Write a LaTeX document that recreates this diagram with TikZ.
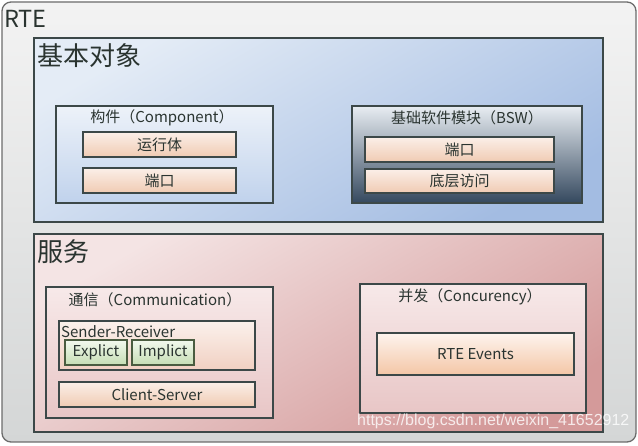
\documentclass[tikz,border=0pt]{standalone}
\usepackage{fontspec}
\setmainfont{Noto Sans CJK SC}
\newfontfamily\wmfont{Liberation Sans}
\definecolor{txt}{HTML}{2A3430}
\definecolor{edge}{HTML}{3C4848}
\definecolor{outT}{HTML}{F3F3F3}
\definecolor{outB}{HTML}{D4D6D6}
\definecolor{bluT}{HTML}{E4ECF6}
\definecolor{bluB}{HTML}{A3BCE2}
\definecolor{cmpT}{HTML}{EDF2F9}
\definecolor{cmpB}{HTML}{C0D2EC}
\definecolor{bswT}{HTML}{E8EDF2}
\definecolor{bswB}{HTML}{34485E}
\definecolor{orgT}{HTML}{FBEFE8}
\definecolor{orgB}{HTML}{F0CBB3}
\definecolor{pnkT}{HTML}{F4E4E4}
\definecolor{pnkB}{HTML}{D49A9A}
\definecolor{comT}{HTML}{F7E9E9}
\definecolor{comB}{HTML}{E8C6C6}
\definecolor{srT}{HTML}{FBF1EC}
\definecolor{srB}{HTML}{F1D0C2}
\definecolor{grnT}{HTML}{F2F8EE}
\definecolor{grnB}{HTML}{C6DEB4}
\definecolor{grnE}{HTML}{4A5C40}
\definecolor{evT}{HTML}{FDF4EE}
\definecolor{evB}{HTML}{F4C6A6}
\tikzset{
  panel/.style={draw=edge, line width=1.2pt, inner sep=0pt},
  orangebox/.style={panel, top color=orgT, bottom color=orgB, line width=1.1pt},
  greenbox/.style={draw=grnE, line width=1.1pt, top color=grnT, bottom color=grnB, inner sep=0pt},
  lbl/.style={text=txt, font=\fontsize{15}{17}\selectfont, inner sep=0pt},
  big/.style={text=txt, font=\fontsize{26}{30}\selectfont, inner sep=0pt, anchor=west},
}
\begin{document}
\begin{tikzpicture}[x=1pt,y=-1pt]
\useasboundingbox (0,0) rectangle (638,446);
\fill[white] (0,0) rectangle (638,446);
% outer RTE
\node[draw=gray!85!black, line width=1.3pt, rounded corners=9pt, top color=outT, bottom color=outB, minimum width=634pt, minimum height=440pt, inner sep=0pt] (rte) at (319,222) {};
\node[big, font=\fontsize{23.5}{26}\selectfont] (rtet) at (4,19) {RTE};
% basic objects
\node[panel, top color=bluT, bottom color=bluB, shading angle=30, minimum width=569pt, minimum height=184pt] (basic) at (318.5,130) {};
\node[big] (basict) at (37,56) {基本对象};
% component
\node[panel, top color=cmpT, bottom color=cmpB, minimum width=217pt, minimum height=97pt] (comp) at (164.5,154.5) {};
\node[lbl] (compt) at (162,118) {构件（Component）};
\node[orangebox, minimum width=153pt, minimum height=25pt] (run) at (159.5,144.5) {};
\node[lbl] (runt) at (run) {运行体};
\node[orangebox, minimum width=153pt, minimum height=25pt] (port1) at (159.5,180.5) {};
\node[lbl] (port1t) at (port1) {端口};
% BSW
\node[panel, top color=bswT, bottom color=bswB, minimum width=230pt, minimum height=97pt] (bsw) at (467,154.5) {};
\node[lbl] (bswt) at (467,118) {基础软件模块（BSW）};
\node[orangebox, minimum width=189pt, minimum height=25pt] (port2) at (459.5,149.5) {};
\node[lbl] (port2t) at (port2) {端口};
\node[orangebox, minimum width=189pt, minimum height=24pt] (low) at (459.5,181) {};
\node[lbl] (lowt) at (low) {底层访问};
% services
\node[panel, top color=pnkT, bottom color=pnkB, shading angle=30, minimum width=569pt, minimum height=198pt] (serv) at (318.5,333) {};
\node[big] (servt) at (37,252) {服务};
% communication
\node[panel, top color=comT, bottom color=comB, minimum width=227pt, minimum height=131pt] (comm) at (159.5,352.5) {};
\node[lbl] (commt) at (155,300) {通信（Communication）};
\node[panel, line width=1.1pt, top color=srT, bottom color=srB, minimum width=196pt, minimum height=49pt] (sr) at (157,345.5) {};
\node[lbl, anchor=west] (srt) at (61,332) {Sender-Receiver};
\node[greenbox, minimum width=62pt, minimum height=25pt] (expl) at (96,352.5) {};
\node[lbl] (explt) at (expl) {Explict};
\node[greenbox, minimum width=62pt, minimum height=25pt] (impl) at (163,352.5) {};
\node[lbl] (implt) at (impl) {Implict};
\node[orangebox, minimum width=196pt, minimum height=25pt] (cs) at (157,394.5) {};
\node[lbl] (cst) at (cs) {Client-Server};
% concurrency
\node[panel, top color=comT, bottom color=comB, minimum width=226pt, minimum height=129pt] (conc) at (473,348.5) {};
\node[lbl] (conct) at (470,297) {并发（Concurency）};
\node[orangebox, top color=evT, bottom color=evB, minimum width=197pt, minimum height=42pt] (ev) at (475.5,354) {};
\node[lbl] (evt) at (ev) {RTE Events};
% watermark
\node[text=white, opacity=0.8, font=\wmfont\fontsize{16}{18}\selectfont, inner sep=0pt, anchor=west] (wm) at (357,421) {https://blog.csdn.net/weixin\_41652912};
\end{tikzpicture}
\end{document}
